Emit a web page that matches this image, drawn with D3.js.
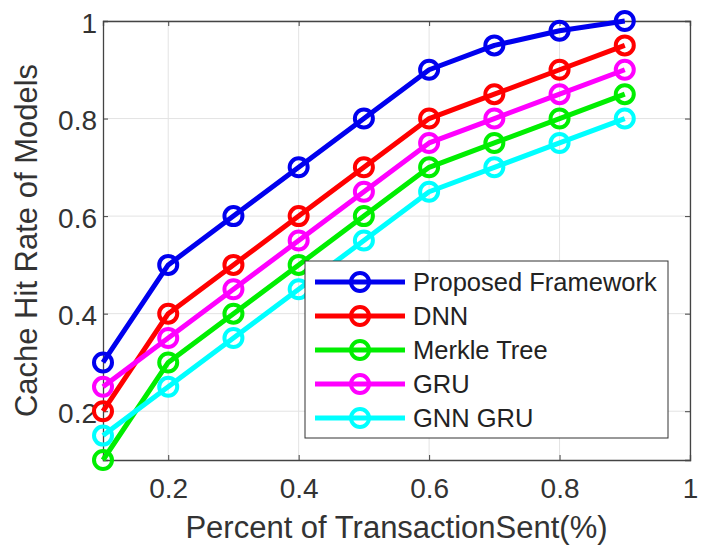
<!DOCTYPE html>
<html>
<head>
<meta charset="utf-8">
<script src="https://cdn.jsdelivr.net/npm/d3@7"></script>
<style>
  body { margin: 0; background: #fff; }
  svg { display: block; font-family: "Liberation Sans", Arial, sans-serif; }
</style>
</head>
<body>
<div id="chart"></div>
<script>
// data
const xValues = [0.1, 0.2, 0.3, 0.4, 0.5, 0.6, 0.7, 0.8, 0.9];
const proposed = [0.3, 0.5, 0.6, 0.7, 0.8, 0.9, 0.95, 0.98, 1.0];
const dnn      = [0.2, 0.4, 0.5, 0.6, 0.7, 0.8, 0.85, 0.9, 0.95];
const merkle   = [0.1, 0.3, 0.4, 0.5, 0.6, 0.7, 0.75, 0.8, 0.85];
const gru      = [0.25, 0.35, 0.45, 0.55, 0.65, 0.75, 0.8, 0.85, 0.9];
const gnnGru   = [0.15, 0.25, 0.35, 0.45, 0.55, 0.65, 0.7, 0.75, 0.8];
const seriesNames = ["Proposed Framework", "DNN", "Merkle Tree", "GRU", "GNN GRU"];
const xTicks = [0.2, 0.4, 0.6, 0.8, 1];
const yTicks = [0.2, 0.4, 0.6, 0.8, 1];

const colors = ["#0000ee", "#ff0000", "#00ee00", "#ff00ff", "#00ffff"];
const allSeries = [proposed, dnn, merkle, gru, gnnGru];

const width = 710, height = 555;
const margin = {left: 103, right: 20, top: 21, bottom: 95};

const svg = d3.select("#chart").append("svg")
    .attr("width", width)
    .attr("height", height);

const x = d3.scaleLinear().domain([0.1, 1]).range([margin.left, width - margin.right]);
const y = d3.scaleLinear().domain([0.1, 1]).range([height - margin.bottom, margin.top]);

const fmt = d => d === 1 ? "1" : d3.format(".1f")(d);

// grid
const grid = svg.append("g").attr("stroke", "#e3e3e3").attr("stroke-width", 1);
grid.selectAll(".gx").data(xTicks).enter().append("line")
    .attr("x1", d => x(d)).attr("x2", d => x(d))
    .attr("y1", y(0.1)).attr("y2", y(1));
grid.selectAll(".gy").data(yTicks).enter().append("line")
    .attr("y1", d => y(d)).attr("y2", d => y(d))
    .attr("x1", x(0.1)).attr("x2", x(1));

// axes
const xAxis = svg.append("g")
    .attr("transform", `translate(0,${y(0.1)})`)
    .call(d3.axisBottom(x).tickValues(xTicks).tickFormat(fmt).tickSize(-5).tickPadding(18));
const yAxis = svg.append("g")
    .attr("transform", `translate(${x(0.1)},0)`)
    .call(d3.axisLeft(y).tickValues(yTicks).tickFormat(fmt).tickSize(-5).tickPadding(6));
svg.append("g")
    .attr("transform", `translate(0,${y(1)})`)
    .call(d3.axisTop(x).tickValues(xTicks).tickFormat("").tickSize(-5));
svg.append("g")
    .attr("transform", `translate(${x(1)},0)`)
    .call(d3.axisRight(y).tickValues(yTicks).tickFormat("").tickSize(-5));

svg.selectAll(".domain").attr("stroke", "#444").attr("stroke-width", 1.3);
svg.selectAll(".tick line").attr("stroke", "#444");
svg.selectAll(".tick text")
    .attr("font-size", 28)
    .attr("fill", "#333")
    .attr("font-family", "Liberation Sans, Arial, sans-serif");
yAxis.selectAll(".tick text").attr("dy", "0.4em");

// axis labels
svg.append("text")
    .attr("x", (x(0.1) + x(1)) / 2)
    .attr("y", 538)
    .attr("text-anchor", "middle")
    .attr("font-size", 31)
    .attr("fill", "#333")
    .text("Percent of TransactionSent(%)");

svg.append("text")
    .attr("transform", `translate(37,${(y(0.1) + y(1)) / 2}) rotate(-90)`)
    .attr("text-anchor", "middle")
    .attr("font-size", 31)
    .attr("fill", "#333")
    .text("Cache Hit Rate of Models");

// lines + markers
const line = d3.line().x((d, i) => x(xValues[i])).y(d => y(d));

allSeries.forEach((vals, k) => {
    const g = svg.append("g");
    g.append("path")
        .datum(vals)
        .attr("d", line)
        .attr("fill", "none")
        .attr("stroke", colors[k])
        .attr("stroke-width", 5)
        .attr("stroke-linejoin", "round");
    g.selectAll("circle").data(vals).enter().append("circle")
        .attr("cx", (d, i) => x(xValues[i]))
        .attr("cy", d => y(d))
        .attr("r", 9)
        .attr("fill", "none")
        .attr("stroke", colors[k])
        .attr("stroke-width", 4);
});

// legend
const legend = svg.append("g").attr("transform", "translate(305,261)");
legend.append("rect")
    .attr("width", 363).attr("height", 177)
    .attr("fill", "#fff")
    .attr("stroke", "#333")
    .attr("stroke-width", 1);

seriesNames.forEach((name, k) => {
    const row = legend.append("g").attr("transform", `translate(0,${21 + k * 34})`);
    row.append("line")
        .attr("x1", 10).attr("x2", 100)
        .attr("stroke", colors[k]).attr("stroke-width", 5);
    row.append("circle")
        .attr("cx", 55).attr("r", 9)
        .attr("fill", "none")
        .attr("stroke", colors[k]).attr("stroke-width", 4);
    row.append("text")
        .attr("x", 108)
        .attr("dy", "0.36em")
        .attr("font-size", 25.5)
        .attr("fill", "#222")
        .text(name);
});
</script>
</body>
</html>
